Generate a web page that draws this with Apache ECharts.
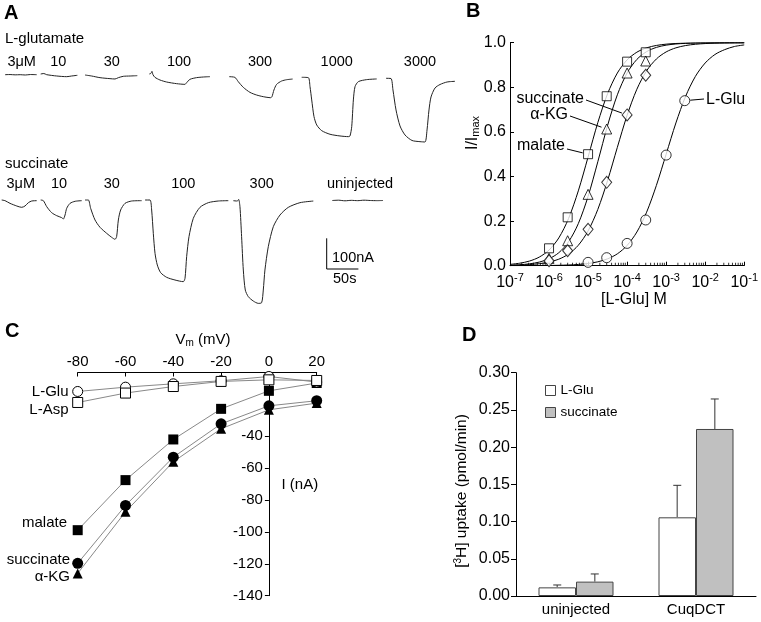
<!DOCTYPE html>
<html><head><meta charset="utf-8">
<script src="https://cdn.jsdelivr.net/npm/echarts@6/dist/echarts.min.js"></script>
<style>html,body{margin:0;padding:0;background:#fff}#c{width:761px;height:622px}</style>
</head><body><div id="c"></div>
<script>
// ---------- DATA ----------
// Panel A: current traces, [time (s), current (nA)] relative to trace start
const gluT3 = [[0,0],[8,0.5],[16,-0.5],[24,0],[32,-1],[40,0.5],[50,0]];
const gluT10 = [[0,0],[5,1.5],[9.4,-2.2],[25.2,-6.5],[41,-8.7],[48.8,-6.5],[57.8,-4.3]];
const gluT30 = [[0,0],[10.5,-3.3],[23.7,-8.7],[39.4,-11.9],[47.3,-13],[52.6,-8.7],[60.4,-4.3],[71,-3.3],[82.5,-2.2]];
const gluT100 = [[0,0],[2.6,2.2],[4.2,8.7],[5.8,-2.2],[8.9,-10.9],[16.8,-19.5],[27.3,-26.1],[43.1,-31.5],[56.2,-33.7],[58.9,-28.2],[64.1,-17.4],[74.6,-11.9],[85.2,-9.8],[95.7,-8.7]];
const gluT300 = [[0,0],[8.9,-2.2],[14.2,-16.3],[22.1,-34.7],[32.6,-51],[43.1,-59.7],[53.6,-65.1],[65.2,-68.4],[67.3,-65.1],[70.4,-43.4],[74.6,-25],[82.5,-14.1],[90.4,-9.8],[99.9,-7.6]];
const gluT1000 = [[0,0],[10.5,-1.1],[13.1,-30.4],[15.8,-73.8],[19.4,-128.1],[23.7,-155.3],[31.5,-173.7],[44.7,-185.6],[60.4,-191.1],[73.6,-193.3],[76.2,-191.1],[78.9,-160.7],[81.5,-73.8],[84.1,-30.4],[89.4,-14.1],[102.5,-7.6],[118.3,-5.4]];
const gluT3000 = [[0,0],[7.9,-0.7],[11,-38.1],[15.8,-103.2],[22.1,-155.3],[30,-184.6],[41,-202.5],[53.6,-206.4],[61.5,-207.5],[64.7,-168.4],[67.8,-103.2],[71,-60.9],[77.3,-31.6],[85.2,-20.2],[96.2,-12.1],[108.8,-9.8]];
const succT3 = [[0,0],[5.3,-2.2],[13.1,-10.9],[23.7,-19.5],[31.5,-23.9],[36.8,-19.5],[42.1,-8.7],[47.3,-3.3],[55.2,-2.2]];
const succT10 = [[0,0],[4.2,-2.2],[9.5,-21.7],[17.3,-41.3],[25.2,-51],[33.1,-57.5],[35.7,-61.9],[38.4,-48.9],[41,-27.1],[46.3,-10.9],[54.1,-4.3],[64.7,-2.2]];
const succT30 = [[0,0],[5.3,0],[8.9,-27.1],[15.8,-65.1],[23.7,-89],[34.2,-108.6],[42.1,-121.6],[47.3,-128.1],[49.9,-119.4],[52.6,-65.1],[56.2,-32.6],[63.1,-10.9],[73.6,-3.3],[89.4,-2.2]];
const succT100 = [[0,0],[7.9,0],[10.5,-32.6],[13.1,-108.6],[15.8,-173.7],[19.4,-211.7],[24.7,-236.7],[34.2,-251.9],[47.3,-260.6],[60.4,-266],[63.1,-255.1],[65.7,-184.6],[69.4,-119.4],[76.2,-59.7],[86.7,-23.9],[99.9,-8.7],[115.6,-3.3],[131.4,-2.2]];
const succT300 = [[0,0],[6.3,-1.1],[8.4,4.3],[10.5,-19.5],[13.1,-117.3],[15.8,-225.8],[18.9,-291],[23.7,-312.7],[31.5,-326.8],[39.4,-334.4],[44.7,-332.2],[47.3,-291],[49.9,-225.8],[55.2,-149.8],[63.1,-84.7],[73.6,-46.7],[86.7,-21.7],[105.1,-6.5],[126.2,-1.1]];
const uninjT = [[0,0],[10,1],[20,-1],[30,0.5],[40,-0.5],[50,1],[60,0],[70,-0.5],[80,0]];
const gluLabels = ['3\u03bcM','10','30','100','300','1000','3000'];
const succLabels = ['3\u03bcM','10','30','100','300','uninjected'];

// Panel B: dose-response
const bConc = [1e-6, 3e-6, 1e-5, 3e-5, 1e-4, 3e-4];
const malateB = [0.078, 0.217, 0.50, 0.76, 0.915, 0.957];
const akgB = [0.033, 0.112, 0.32, 0.613, 0.864, 0.918];
const succB = [0.022, 0.067, 0.163, 0.374, 0.676, 0.854];
const gluConc = [1e-5, 3e-5, 1e-4, 3e-4, 1e-3, 3e-3];
const gluB = [0.015, 0.036, 0.10, 0.205, 0.496, 0.74];
const curveX = [1e-7,1.778e-7,3.162e-7,5.623e-7,1e-6,1.778e-6,3.162e-6,5.623e-6,1e-5,1.778e-5,3.162e-5,5.623e-5,1e-4,1.778e-4,3.162e-4,5.623e-4,1e-3,1.778e-3,3.162e-3,5.623e-3,1e-2,1.778e-2,3.162e-2,5.623e-2,1e-1];
const malateFit = [0.006,0.0112,0.0208,0.0386,0.0702,0.1245,0.2114,0.3355,0.4873,0.6418,0.7713,0.864,0.9229,0.9575,0.977,0.9877,0.9934,0.9965,0.9981,0.999,0.9995,0.9997,0.9999,1,1];
const akgFit = [0.00225,0.00435,0.0084,0.0162,0.031,0.0582,0.107,0.1887,0.3106,0.4662,0.6289,0.7664,0.8643,0.925,0.9599,0.9789,0.989,0.9943,0.997,0.9985,0.9992,0.9996,0.9998,0.9999,1];
const succFit = [0.00146,0.00268,0.00489,0.0089,0.0162,0.0292,0.0522,0.0916,0.1558,0.2525,0.382,0.5308,0.6743,0.7913,0.874,0.927,0.9587,0.977,0.9873,0.993,0.9962,0.9979,0.9989,0.9994,0.9997];
const gluFit = [0.0001,0.00018,0.00032,0.00056,0.001,0.00178,0.00315,0.0056,0.0099,0.0175,0.0307,0.0532,0.0909,0.151,0.24,0.36,0.5,0.64,0.76,0.849,0.909,0.947,0.969,0.983,0.99];
const bMinorMult = [2,3,4,5,6,7,8,9];
const bDecades = [1e-7,1e-6,1e-5,1e-4,1e-3,1e-2];

// Panel C: I-V
const vm = [-80,-60,-40,-20,0,20];
const ivGlu = [-11.9,-9.2,-7.1,-5.2,-2.5,-6];
const ivAsp = [-18.8,-12.9,-8.8,-5.6,-4.6,-5];
const ivMalate = [-98.9,-67.5,-42,-22.8,-11.5,-6.6];
const ivSucc = [-119.7,-83.4,-53.1,-32.2,-20.9,-17.7];
const ivAkg = [-126,-87.4,-56,-35.3,-23.4,-19.2];
const cYLabels = [-40,-60,-80,-100,-120,-140];

// Panel D: uptake
const dCats = ['uninjected','CuqDCT'];
const dGlu = [0.0116, 0.1057];
const dGluErr = [0.0032, 0.043];
const dSucc = [0.0193, 0.2244];
const dSuccErr = [0.0103, 0.0403];

// ---------- LAYOUT ----------
const FONT = '"Liberation Sans", Arial, Helvetica, sans-serif';
const PX_S = 31.7/50;     // px per second (scale bar)
const PX_NA = 30.7/100;   // px per nA (scale bar)
const grids = [], xAxes = [], yAxes = [], series = [];

const traceLayout = [
  [gluT3, 5, 74.7],[gluT10, 40.7, 74],[gluT30, 85, 75],[gluT100, 149.3, 74],
  [gluT300, 229.3, 76.7],[gluT1000, 301.7, 77.3],[gluT3000, 386, 78.3],
  [succT3, 1.7, 200],[succT10, 40.7, 200],[succT30, 85, 200],[succT100, 145, 200],
  [succT300, 233.3, 200.7],[uninjT, 332.3, 200.5]
];
const Y_TOP = 30, Y_BOT = -400;
traceLayout.forEach(([d, x0, y0], i) => {
  const tmax = d[d.length-1][0];
  grids.push({left: x0, top: y0 - Y_TOP*PX_NA, width: tmax*PX_S, height: (Y_TOP - Y_BOT)*PX_NA});
  xAxes.push({type:'value', gridIndex:i, min:0, max:tmax, show:false});
  yAxes.push({type:'value', gridIndex:i, min:Y_BOT, max:Y_TOP, show:false});
  series.push({type:'line', xAxisIndex:i, yAxisIndex:i, data:d, showSymbol:false, smooth:0.25,
    lineStyle:{color:'#222', width:1}, silent:true});
});

// Panel B
const gB = grids.length;
grids.push({left:510, top:42.7, width:239, height:223});
const axisBlack = {lineStyle:{color:'#000', width:1}};
xAxes.push({type:'log', logBase:10, gridIndex:gB, min:1e-7, max:1e-1, axisLine:axisBlack,
  axisTick:{inside:true, length:4, lineStyle:{color:'#000'}}, splitLine:{show:false},
  axisLabel:{color:'#000', fontSize:16, fontFamily:FONT, margin:7,
    formatter: v => '10{sup|' + Math.round(Math.log10(v)) + '}',
    rich:{sup:{fontSize:11, fontFamily:FONT, color:'#000', verticalAlign:'top', padding:[0,0,8,0]}}}});
yAxes.push({type:'value', gridIndex:gB, min:0, max:1, interval:0.2, axisLine:{show:true, lineStyle:{color:'#000'}},
  axisTick:{show:true, inside:true, length:4, lineStyle:{color:'#000'}}, splitLine:{show:false},
  axisLabel:{color:'#000', fontSize:16, fontFamily:FONT, margin:4, formatter: v => v.toFixed(1)}});
const bMinor = [];
bDecades.forEach(d => bMinorMult.forEach(m => bMinor.push([d*m, 0])));
series.push({type:'scatter', xAxisIndex:gB, yAxisIndex:gB, data:bMinor, symbol:'rect', symbolSize:[1,3],
  symbolOffset:[0,-1.5], itemStyle:{color:'#000'}, silent:true, z:1, clip:false});
const fitStyle = {type:'line', xAxisIndex:gB, yAxisIndex:gB, showSymbol:false, smooth:0.3, lineStyle:{color:'#000', width:1}, silent:true};
[malateFit, akgFit, succFit, gluFit].forEach(f => series.push(Object.assign({}, fitStyle, {data: curveX.map((x,i)=>[x,f[i]])})));
const openStyle = {color:'#fff', borderColor:'#000', borderWidth:1};
const pts = (xs, ys) => xs.map((x,i)=>[x, ys[i]]);
series.push({type:'scatter', xAxisIndex:gB, yAxisIndex:gB, data:pts(bConc, malateB), symbol:'rect', symbolSize:9, itemStyle:openStyle, z:5});
series.push({type:'scatter', xAxisIndex:gB, yAxisIndex:gB, data:pts(bConc, akgB), symbol:'triangle', symbolSize:10, itemStyle:openStyle, z:5});
series.push({type:'scatter', xAxisIndex:gB, yAxisIndex:gB, data:pts(bConc, succB), symbol:'diamond', symbolSize:[10,12], itemStyle:openStyle, z:5});
series.push({type:'scatter', xAxisIndex:gB, yAxisIndex:gB, data:pts(gluConc, gluB), symbol:'circle', symbolSize:10, itemStyle:openStyle, z:5});

// Panel C
const gC = grids.length;
const C_W = 239, C_XMIN = -80, C_XMAX = 20;
grids.push({left:77.7, top:372.5, width:C_W, height:223.2});
xAxes.push({type:'value', gridIndex:gC, min:C_XMIN, max:C_XMAX, interval:20, position:'top',
  axisLine:{onZero:false, lineStyle:{color:'#000'}}, axisTick:{inside:true, length:4, lineStyle:{color:'#000'}},
  splitLine:{show:false}, axisLabel:{color:'#000', fontSize:15, fontFamily:FONT, margin:3}});
yAxes.push({type:'value', gridIndex:gC, min:-140, max:0, interval:20, position:'left',
  offset: -(0 - C_XMIN)/(C_XMAX - C_XMIN)*C_W,
  axisLine:{show:true, onZero:false, lineStyle:{color:'#000'}},
  axisTick:{show:true, length:4, customValues:cYLabels, lineStyle:{color:'#000'}}, splitLine:{show:false},
  axisLabel:{color:'#000', fontSize:15, fontFamily:FONT, margin:6, customValues:cYLabels}});
const ivLine = {type:'line', xAxisIndex:gC, yAxisIndex:gC, lineStyle:{color:'#888', width:1}, showAllSymbol:true, silent:true};
series.push(Object.assign({}, ivLine, {data:pts(vm, ivMalate), symbol:'rect', symbolSize:10, itemStyle:{color:'#000'}}));
series.push(Object.assign({}, ivLine, {data:pts(vm, ivSucc), symbol:'circle', symbolSize:11, itemStyle:{color:'#000'}}));
series.push(Object.assign({}, ivLine, {data:pts(vm, ivAkg), symbol:'triangle', symbolSize:10, itemStyle:{color:'#000'}}));
series.push(Object.assign({}, ivLine, {data:pts(vm, ivGlu), symbol:'circle', symbolSize:10, itemStyle:openStyle}));
series.push(Object.assign({}, ivLine, {data:pts(vm, ivAsp), symbol:'rect', symbolSize:10, itemStyle:openStyle}));

// Panel D
const gD = grids.length;
grids.push({left:516, top:372.7, width:240, height:223.3});
xAxes.push({type:'category', gridIndex:gD, data:dCats, axisLine:{lineStyle:{color:'#000'}},
  axisTick:{length:4, lineStyle:{color:'#000'}}, axisLabel:{color:'#000', fontSize:15, fontFamily:FONT, margin:6}});
yAxes.push({type:'value', gridIndex:gD, min:0, max:0.3, interval:0.05, axisLine:{show:true, lineStyle:{color:'#000'}},
  axisTick:{show:true, length:5, lineStyle:{color:'#000'}}, splitLine:{show:false},
  axisLabel:{color:'#000', fontSize:16, fontFamily:FONT, margin:6, formatter: v => v.toFixed(2)}});
const BAR_W = 37.5;
series.push({type:'bar', name:'L-Glu', xAxisIndex:gD, yAxisIndex:gD, data:dGlu, barWidth:BAR_W, barGap:'0%',
  itemStyle:{color:'#fff', borderColor:'#444', borderWidth:1}, silent:true});
series.push({type:'bar', name:'succinate', xAxisIndex:gD, yAxisIndex:gD, data:dSucc, barWidth:BAR_W, barGap:'0%',
  itemStyle:{color:'#c0c0c0', borderColor:'#444', borderWidth:1}, silent:true});
function errSeries(means, errs, off) {
  return {type:'custom', xAxisIndex:gD, yAxisIndex:gD, silent:true, z:3,
    data: means.map((m,i)=>[i, m, errs[i]]), encode:{x:0, y:1},
    renderItem:(params, api) => {
      const p0 = api.coord([api.value(0), api.value(1)]);
      const p1 = api.coord([api.value(0), api.value(1) + api.value(2)]);
      const x = p0[0] + off;
      return {type:'group', children:[
        {type:'line', shape:{x1:x, y1:p0[1], x2:x, y2:p1[1]}, style:{stroke:'#777', lineWidth:1.5}},
        {type:'line', shape:{x1:x-4, y1:p1[1], x2:x+4, y2:p1[1]}, style:{stroke:'#333', lineWidth:1}}]};
    }};
}
series.push(errSeries(dGlu, dGluErr, -BAR_W/2));
series.push(errSeries(dSucc, dSuccErr, BAR_W/2));

// ---------- TEXT ----------
function T(id, x, y, text, size, align, extra) {
  return Object.assign({type:'text', id, x, y, silent:true,
    style:Object.assign({text, fontSize:size, fontFamily:FONT, fill:'#000', textAlign:align||'left', textVerticalAlign:'middle'}, extra||{})});
}
const els = [];
els.push(T('pa', 4, 13, 'A', 20, 'left', {fontWeight:'bold'}));
els.push(T('pb', 466, 11, 'B', 20, 'left', {fontWeight:'bold'}));
els.push(T('pc', 5, 331, 'C', 20, 'left', {fontWeight:'bold'}));
els.push(T('pd', 462, 335, 'D', 20, 'left', {fontWeight:'bold'}));
els.push(T('gl', 5, 38.5, 'L-glutamate', 15));
els.push(T('sl', 5, 163.5, 'succinate', 15));
const gluLabX = [21.7, 58.3, 111.7, 179, 260, 336.7, 420];
gluLabels.forEach((s,i)=>els.push(T('gx'+i, gluLabX[i], 61.5, s, 14.5, 'center')));
const succLabX = [20.8, 59, 111.7, 183.3, 261.7, 327];
succLabels.forEach((s,i)=>els.push(T('sx'+i, succLabX[i], 184, s, 14.5, i===5?'left':'center')));
// scale bar
const sbX = 326.7, sbY = 269;
els.push({type:'polyline', id:'sb', silent:true, shape:{points:[[sbX, sbY - 100*PX_NA],[sbX, sbY],[sbX + 50*PX_S, sbY]]}, style:{stroke:'#000', lineWidth:1, fill:null}});
els.push(T('sbt1', 332, 257.5, '100nA', 14.5));
els.push(T('sbt2', 333, 278.5, '50s', 14.5));
// B
const byEl = T('by', 473, 133, '{a|I/I}{s|max}', 16, 'center', {rich:{a:{fontSize:16, fontFamily:FONT}, s:{fontSize:11, fontFamily:FONT, verticalAlign:'bottom', padding:[6,0,0,0]}}});
byEl.rotation = Math.PI/2;
els.push(byEl);
els.push(T('bx', 634, 300, '[L-Glu] M', 16, 'center'));
els.push(T('bl1', 584, 98.5, 'succinate', 16, 'right'));
els.push(T('bl2', 568, 115, '\u03b1-KG', 16, 'right'));
els.push(T('bl3', 565, 145.5, 'malate', 16, 'right'));
els.push(T('bl4', 706, 100, 'L-Glu', 16, 'left'));
// C
els.push(T('cx', 203, 340, '{a|V}{s|m}{a| (mV)}', 15, 'center', {rich:{a:{fontSize:15, fontFamily:FONT}, s:{fontSize:10, fontFamily:FONT, verticalAlign:'bottom', padding:[6,0,0,0]}}}));
els.push(T('cy', 281.5, 484.5, 'I (nA)', 15));
els.push(T('cl1', 68.5, 392, 'L-Glu', 15, 'right'));
els.push(T('cl2', 68.5, 409.5, 'L-Asp', 15, 'right'));
els.push(T('cl3', 67, 523, 'malate', 15, 'right'));
els.push(T('cl4', 70, 559.5, 'succinate', 15, 'right'));
els.push(T('cl5', 70, 577, '\u03b1-KG', 15, 'right'));
// D
const dy = T('dy', 462, 491, '[{s|3}H] uptake (pmol/min)', 15.5, 'center', {rich:{s:{fontSize:10, fontFamily:FONT, verticalAlign:'top', padding:[0,0,7,0]}}});
dy.rotation = Math.PI/2;
els.push(dy);

const option = {
  animation:false,
  textStyle:{fontFamily:FONT},
  grid:grids, xAxis:xAxes, yAxis:yAxes, series,
  legend:{orient:'vertical', left:540, top:378.5, itemWidth:10, itemHeight:10, itemGap:8, icon:'rect', selectedMode:false,
    textStyle:{fontSize:13.5, fontFamily:FONT, color:'#000'},
    data:[{name:'L-Glu', itemStyle:{color:'#fff', borderColor:'#444', borderWidth:1}},
          {name:'succinate', itemStyle:{color:'#c0c0c0', borderColor:'#444', borderWidth:1}}]},
  graphic:{elements:els}
};
const chart = echarts.init(document.getElementById('c'), null, {renderer:'canvas'});
chart.setOption(option);

// leader lines in B: from label to data point
const leaders = [
  ['ld1', [586, 100], [1e-4, succB[4]]],
  ['ld2', [570, 116], [3e-5, akgB[3]]],
  ['ld3', [567, 149], [1e-5, malateB[2]]],
  ['ld4', [704, 99], [3e-3, gluB[5]]]
];
const extra = leaders.map(([id, a, d]) => {
  const p = chart.convertToPixel({xAxisIndex:gB, yAxisIndex:gB}, d);
  const dx = a[0]-p[0], dy2 = a[1]-p[1], L = Math.hypot(dx, dy2);
  const e = [p[0] + dx/L*5.5, p[1] + dy2/L*5.5];
  return {type:'line', id, silent:true, shape:{x1:a[0], y1:a[1], x2:e[0], y2:e[1]}, style:{stroke:'#000', lineWidth:1}};
});
chart.setOption({graphic:{elements:extra}});
</script></body></html>
